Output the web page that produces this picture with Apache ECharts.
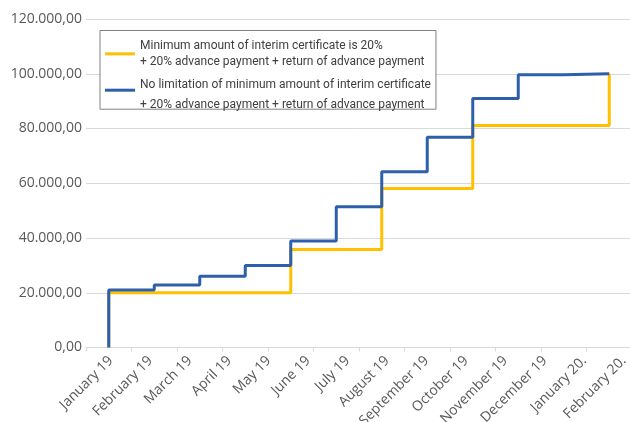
<!DOCTYPE html>
<html>
<head>
<meta charset="utf-8">
<script src="https://cdn.jsdelivr.net/npm/echarts@6/dist/echarts.min.js"></script>
<style>
  html, body { margin: 0; padding: 0; background: #fff; }
  #chart { width: 630px; height: 422px; }
</style>
</head>
<body>
<div id="chart"></div>
<script>
// Month labels along the bottom axis
const monthLabels = ['January 19', 'February 19', 'March 19', 'April 19', 'May 19', 'June 19',
  'July 19', 'August 19', 'September 19', 'October 19', 'November 19', 'December 19',
  'January 20.', 'February 20.'];

// Payment periods (one band each on the plotting axis)
const periods = ['1', '2', '3', '4', '5', '6', '7', '8', '9', '10', '11', '12'];

// Cumulative amount before the first payment
const startValue = 0;

// Cumulative amount per period
const minimumCertificate = [20000, 20000, 20000, 20000, 35800, 35800, 58100, 58100, 81100, 81100, 81100, 100000];
const noLimitation = [21000, 22800, 26000, 30000, 38900, 51400, 64200, 76800, 91000, 99600, 100000, 100000];

// Y axis range
const yMin = 0, yMax = 120000, yStep = 20000;

const seriesNames = [
  'Minimum amount of interim certificate is 20%\n+ 20% advance payment + return of advance payment',
  'No limitation of minimum amount of interim certificate\n+ 20% advance payment + return of advance payment'
];

function stepData(values) {
  return [[0, startValue]].concat(values.map((v, i) => [i, v]));
}

function formatAmount(v) {
  const s = Math.round(v).toString().replace(/\B(?=(\d{3})+(?!\d))/g, '.');
  return s + ',00';
}

const chart = echarts.init(document.getElementById('chart'), null, { renderer: 'canvas' });

const axisFont = '"Open Sans", sans-serif';
const legendFont = 'Roboto, "Liberation Sans", sans-serif';
const legendSize = 12;

chart.setOption({
  animation: false,
  backgroundColor: '#ffffff',
  grid: { left: 86, top: 19, width: 546, height: 328.5, containLabel: false, outerBoundsMode: 'none' },
  legend: {
    left: 100,
    top: 30.5,
    orient: 'vertical',
    selectedMode: false,
    backgroundColor: '#ffffff',
    borderColor: '#808080',
    borderWidth: 1,
    borderRadius: 0,
    padding: [9, 5, -2, 5],
    itemGap: 11,
    itemWidth: 30,
    itemHeight: 3,
    icon: 'rect',
    data: seriesNames,
    formatter: function (name) {
      const lines = name.split('\n');
      if (name === seriesNames[1]) {
        return '{a|' + lines[0] + '}\n{b|' + lines[1] + '}';
      }
      return '{t|' + lines[0] + '}\n{t|' + lines[1] + '}';
    },
    textStyle: {
      fontFamily: legendFont,
      fontSize: legendSize,
      color: '#404040',
      width: 292,
      rich: {
        t: { fontFamily: legendFont, fontSize: legendSize, color: '#404040', lineHeight: 16.7 },
        a: { fontFamily: legendFont, fontSize: legendSize, color: '#404040', lineHeight: 30 },
        b: { fontFamily: legendFont, fontSize: legendSize, color: '#404040', lineHeight: 10 }
      }
    }
  },
  xAxis: [
    {
      type: 'category',
      data: periods,
      boundaryGap: true,
      axisLine: { show: true, lineStyle: { color: '#d9d9d9', width: 1 } },
      axisTick: { show: true, length: 4, lineStyle: { color: '#d9d9d9' } },
      axisLabel: { show: false },
      splitLine: { show: false }
    },
    {
      type: 'value',
      position: 'bottom',
      min: -0.63,
      max: 13.207,
      axisLine: { show: false },
      axisTick: { show: false },
      splitLine: { show: false },
      axisLabel: {
        show: true,
        customValues: monthLabels.map((_, i) => i),
        formatter: (v) => monthLabels[Math.round(v)] || '',
        rotate: 45,
        margin: 11,
        fontFamily: axisFont,
        fontSize: 14,
        color: '#595959'
      }
    }
  ],
  yAxis: {
    type: 'value',
    min: yMin,
    max: yMax,
    interval: yStep,
    axisLine: { show: false },
    axisTick: { show: false },
    splitLine: { show: true, lineStyle: { color: '#d9d9d9', width: 1 } },
    axisLabel: {
      formatter: formatAmount,
      margin: 4,
      fontFamily: axisFont,
      fontSize: 14,
      color: '#595959'
    }
  },
  series: [
    {
      name: seriesNames[0],
      type: 'line',
      step: 'end',
      xAxisIndex: 0,
      data: stepData(minimumCertificate),
      showSymbol: false,
      symbol: 'none',
      lineStyle: { color: '#ffc000', width: 3 },
      itemStyle: { color: '#ffc000' },
      z: 2
    },
    {
      name: seriesNames[1],
      type: 'line',
      step: 'end',
      xAxisIndex: 0,
      data: stepData(noLimitation),
      showSymbol: false,
      symbol: 'none',
      lineStyle: { color: '#2e5fab', width: 3 },
      itemStyle: { color: '#2e5fab' },
      z: 3
    }
  ]
});
</script>
</body>
</html>
